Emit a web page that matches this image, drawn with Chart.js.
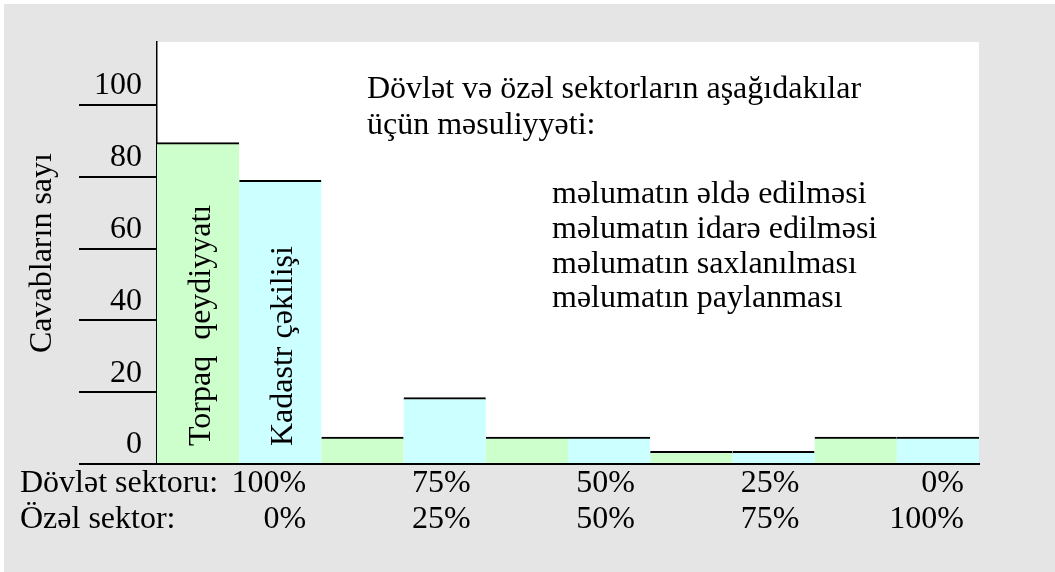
<!DOCTYPE html>
<html>
<head>
<meta charset="utf-8">
<script src="https://cdn.jsdelivr.net/npm/chart.js@4/dist/chart.umd.min.js"></script>
<style>
  html, body { margin: 0; padding: 0; background: #ffffff; }
  #wrap { width: 1055px; height: 572px; position: relative; }
</style>
</head>
<body>
<div id="wrap"><canvas id="c" width="1055" height="572"></canvas></div>
<script>
// ---- data ----
const stateShare   = ['100%', '75%', '50%', '25%', '0%'];
const privateShare = ['0%', '25%', '50%', '75%', '100%'];
const rowHeaders   = ['Dövlət sektoru:', 'Özəl sektor:'];
const seriesNames  = ['Torpaq  qeydiyyatı', 'Kadastr çəkilişi'];
const landRegistration = [89.5, 7.5, 7.5, 3.5, 7.5];
const cadastralSurvey  = [79, 18.5, 7.5, 3.5, 7.5];
const yTickValues  = [0, 20, 40, 60, 80, 100];
const yTitle       = 'Cavabların sayı';
const noteTitle    = ['Dövlət və özəl sektorların aşağıdakılar', 'üçün məsuliyyəti:'];
const noteItems    = ['məlumatın əldə edilməsi', 'məlumatın idarə edilməsi', 'məlumatın saxlanılması', 'məlumatın paylanması'];

const FONT = 'Liberation Serif, Times New Roman, serif';
const categories = stateShare.map((s, i) => [s, privateShare[i]]);

const bgPlugin = {
  id: 'bg',
  beforeDraw(chart) {
    const ctx = chart.ctx, a = chart.chartArea;
    ctx.save();
    ctx.fillStyle = '#ffffff';
    ctx.fillRect(0, 0, chart.width, chart.height);
    ctx.fillStyle = '#e5e5e5';
    ctx.fillRect(4, 4, chart.width - 4, chart.height - 4);
    ctx.fillStyle = '#ffffff';
    ctx.fillRect(a.left, a.top, a.right - a.left, a.bottom - a.top);
    ctx.restore();
  }
};

const textPlugin = {
  id: 'texts',
  afterDraw(chart) {
    const ctx = chart.ctx;
    ctx.save();
    ctx.fillStyle = '#000';
    ctx.font = '32px ' + FONT;
    ctx.textAlign = 'left';
    ctx.textBaseline = 'alphabetic';
    // annotation
    ctx.fillText(noteTitle[0], 367, 98);
    ctx.fillText(noteTitle[1], 367, 134);
    const ys = [203, 238, 273, 307];
    noteItems.forEach((t, i) => ctx.fillText(t, 552, ys[i]));
    // row headers for x labels
    const xs = chart.scales.x;
    ctx.textBaseline = 'middle';
    const lh = 36.5, pad = 1;
    rowHeaders.forEach((t, i) => ctx.fillText(t, 20, xs.top + pad + lh * (i + 0.5)));
    // rotated labels inside the first pair of bars
    [0, 1].forEach(ds => {
      const bar = chart.getDatasetMeta(ds).data[0];
      ctx.save();
      ctx.translate(bar.x + 12, bar.base - 17);
      ctx.rotate(-Math.PI / 2);
      ctx.textBaseline = 'alphabetic';
      ctx.textAlign = 'left';
      ctx.fillText(seriesNames[ds], 0, 0);
      ctx.restore();
    });
    ctx.restore();
  }
};

new Chart(document.getElementById('c'), {
  type: 'bar',
  data: {
    labels: categories,
    datasets: [
      { label: seriesNames[0], data: landRegistration, backgroundColor: '#ccffcc',
        borderColor: '#000', borderWidth: { top: 2, left: 0, right: 0, bottom: 0 },
        categoryPercentage: 1, barPercentage: 1 },
      { label: seriesNames[1], data: cadastralSurvey, backgroundColor: '#ccffff',
        borderColor: '#000', borderWidth: { top: 2, left: 0, right: 0, bottom: 0 },
        categoryPercentage: 1, barPercentage: 1 }
    ]
  },
  options: {
    responsive: false,
    animation: false,
    events: [],
    layout: { padding: { left: 4, top: 42, right: 76, bottom: 0 } },
    plugins: { legend: { display: false }, tooltip: { enabled: false } },
    scales: {
      x: {
        grid: { display: false, drawTicks: false },
        border: { display: true, color: '#000', width: 2 },
        ticks: {
          color: '#000', font: { family: FONT, size: 32, lineHeight: 36.5 / 32 },
          align: 'end', labelOffset: 67, padding: 1, maxRotation: 0, minRotation: 0, autoSkip: false
        },
        afterFit(s) { s.height = 108; }
      },
      y: {
        min: 0, max: 117.5,
        afterBuildTicks(s) { s.ticks = yTickValues.map(v => ({ value: v })); },
        grid: { display: true, drawOnChartArea: false, drawTicks: true, tickLength: 78, color: '#000', lineWidth: 2 },
        border: { display: true, color: '#000', width: 1.5 },
        ticks: {
          color: '#000', font: { family: FONT, size: 32 },
          padding: -63, labelOffset: -19
        },
        title: {
          display: true, text: yTitle, color: '#000',
          font: { family: FONT, size: 32 }, padding: { top: 19, bottom: 0 }
        },
        afterFit(s) { s.width = 153; }
      }
    }
  },
  plugins: [bgPlugin, textPlugin]
});
</script>
</body>
</html>
